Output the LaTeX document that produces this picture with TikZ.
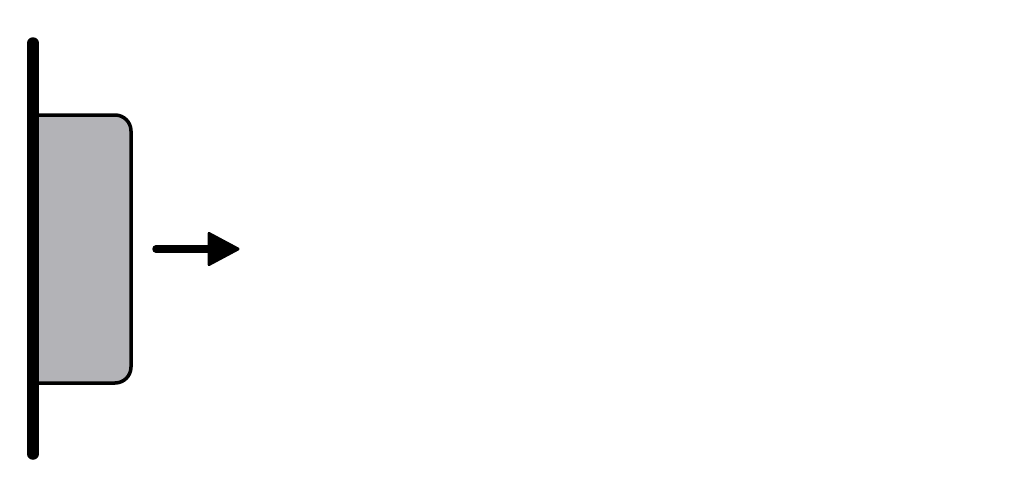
\documentclass[tikz,border=0pt]{standalone}
\definecolor{platefill}{RGB}{179,179,183}
\tikzset{
  wall/.style={line width=11.5pt, line cap=round, black},
  plate/.style={line width=3.5pt, draw=black, fill=platefill},
  shaft/.style={line width=7.5pt, line cap=round, black},
  arrowhead/.style={fill=black, draw=black, line width=3pt, line join=round}
}
\begin{document}
\begin{tikzpicture}[x=1pt, y=-1pt]
\useasboundingbox (0,0) rectangle (1022,498);
\fill[white] (0,0) rectangle (1022,498);
\coordinate (wt) at (33,43);
\coordinate (wb) at (33,454);
\coordinate (as) at (156,249);
\coordinate (ae) at (212,249);
\coordinate (ht) at (238,249);
\draw[plate] (33,115) -- (115,115) arc[start angle=90, end angle=0, radius=16pt]
  -- (131,367) arc[start angle=0, end angle=-90, radius=16pt] -- (33,383) -- cycle;
\draw[wall] (wt) -- (wb);
\draw[shaft] (as) -- (ae);
\draw[arrowhead] (209,233.5) -- (ht) -- (209,264.5) -- cycle;
\end{tikzpicture}
\end{document}
